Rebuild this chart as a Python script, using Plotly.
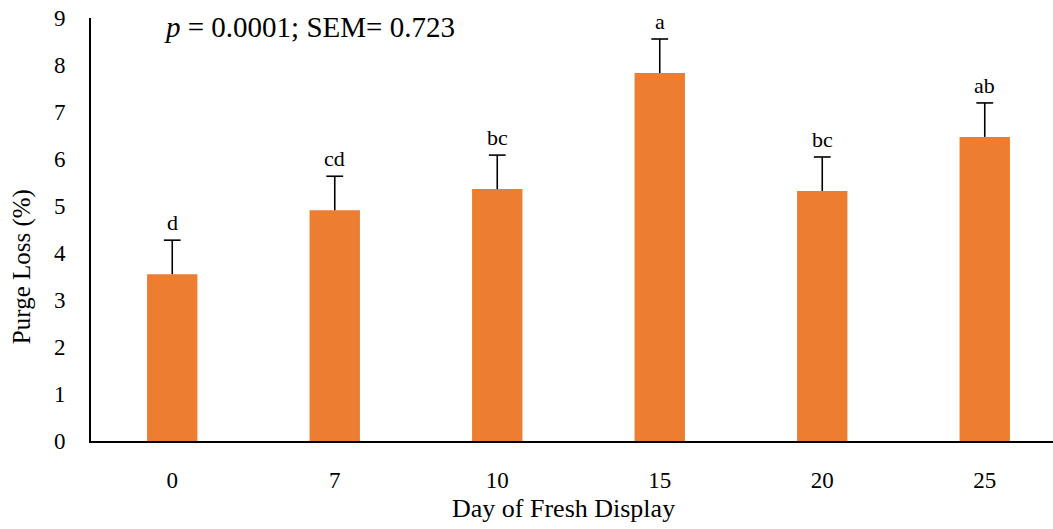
import plotly.graph_objects as go

days = ["0", "7", "10", "15", "20", "25"]
purge_loss = [3.55, 4.91, 5.36, 7.83, 5.32, 6.47]
sem = 0.723
letters = ["d", "cd", "bc", "a", "bc", "ab"]

FONT = "Liberation Serif"
idx = list(range(len(days)))
tops = [v + sem for v in purge_loss]

fig = go.Figure()
fig.add_trace(go.Bar(
    x=idx,
    y=purge_loss,
    width=0.31,
    marker=dict(color="#ED7D31", line=dict(width=0)),
    hoverinfo="skip",
))

# upper-only error bars: stem from bar top to mean + SEM, with a cap
stem_x, stem_y = [], []
for i, v, t in zip(idx, purge_loss, tops):
    stem_x += [i, i, None]
    stem_y += [v, t, None]
fig.add_trace(go.Scatter(x=stem_x, y=stem_y, mode="lines",
                         line=dict(color="black", width=1.6), hoverinfo="skip"))
fig.add_trace(go.Scatter(x=idx, y=tops, mode="markers",
                         marker=dict(symbol="line-ew", size=12,
                                     line=dict(color="black", width=1.6)),
                         hoverinfo="skip"))

for i, t, lab in zip(idx, tops, letters):
    fig.add_annotation(x=i, y=t, text=lab, showarrow=False, yanchor="bottom",
                       yshift=3, font=dict(family=FONT, size=22, color="black"))

fig.add_annotation(xref="paper", yref="paper", x=0.074, y=1.0, xanchor="left", yanchor="middle",
                   yshift=-9, text="<i>p</i> = 0.0001; SEM= 0.723", showarrow=False,
                   font=dict(family=FONT, size=29, color="black"))

# axis titles
fig.add_annotation(xref="paper", yref="paper", x=0.491, y=0, yshift=-67, yanchor="middle",
                   text="Day of Fresh Display", showarrow=False,
                   font=dict(family=FONT, size=26, color="black"))
fig.add_annotation(xref="paper", yref="paper", x=0, xshift=-69, y=0.411, xanchor="center",
                   yanchor="middle", textangle=-90, text="Purge Loss (%)", showarrow=False,
                   font=dict(family=FONT, size=25, color="black"))

fig.update_layout(
    width=1053, height=529,
    margin=dict(l=91, r=0, t=18, b=88),
    paper_bgcolor="white", plot_bgcolor="white",
    showlegend=False,
    font=dict(family=FONT, size=21, color="black"),
    xaxis=dict(
        range=[-0.5, 5.42], tickmode="array", tickvals=idx, ticktext=days,
        showline=True, linecolor="black", linewidth=2, ticks="",
        ticklabelstandoff=17, showgrid=False, zeroline=False,
        tickfont=dict(size=23),
    ),
    yaxis=dict(
        range=[0, 9], dtick=1, showline=True, linecolor="black", linewidth=2,
        ticks="", showgrid=False, zeroline=False, ticklabelstandoff=19,
        tickfont=dict(size=23),
    ),
)

fig.write_html("out.html")
